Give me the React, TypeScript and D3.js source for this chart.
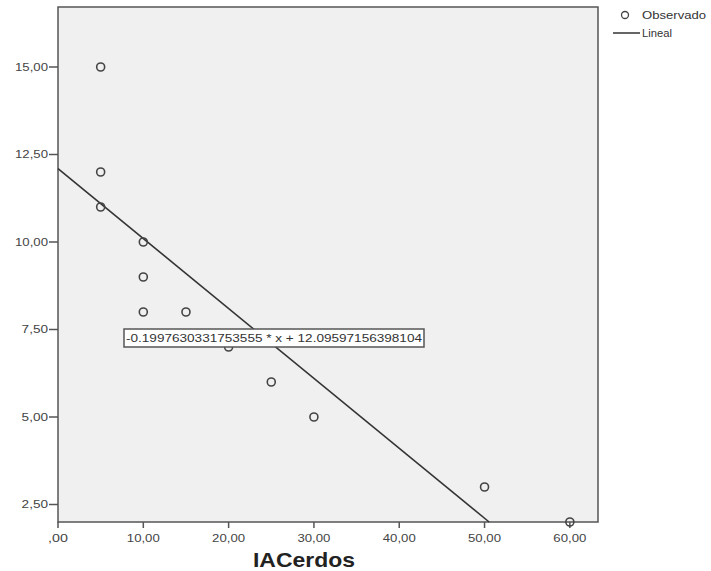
import React from "react";
import * as d3 from "d3";

const xValues = [5, 5, 5, 10, 10, 10, 15, 20, 25, 30, 50, 60];
const yValues = [15, 12, 11, 10, 9, 8, 8, 7, 6, 5, 3, 2];
const xTicks = [0, 10, 20, 30, 40, 50, 60];
const yTicks = [2.5, 5, 7.5, 10, 12.5, 15];
const slope = -0.1997630331753555;
const intercept = 12.09597156398104;
const equationLabel = "-0.1997630331753555 * x + 12.09597156398104";
const xTitle = "IACerdos";
const legendItems = ["Observado", "Lineal"];

const W = 711, H = 571;
const L = 58, R = 598, T = 7, B = 522;

const fmt = (v: number) => {
  const s = v.toFixed(2).replace(".", ",");
  return s.startsWith("0,") ? s.slice(1) : s;
};
const labW = (s: string) => s.length * 6.6;

export default function App() {
  const x = d3.scaleLinear().domain([0, 63.3]).range([L, R]);
  const y = d3.scaleLinear().domain([2, 2 + (B - T) / 35]).range([B, T]);
  const xEnd = (2 - intercept) / slope;
  const line = d3.line<[number, number]>().x(d => x(d[0])).y(d => y(d[1]));
  const pts: [number, number][] = [[0, intercept], [xEnd, slope * xEnd + intercept]];
  const font = "Liberation Sans, Arial, sans-serif";
  const eqX = 274, eqY = 338;
  return (
    <svg width={W} height={H} style={{ position: "absolute", left: 0, top: 0, background: "#fff" }} fontFamily={font}>
      <rect x={L} y={T} width={R - L} height={B - T} fill="#f0f0f0" stroke="#555" strokeWidth={1.5} />
      {yTicks.map(t => (
        <g key={"y" + t}>
          <line x1={L - 9} x2={L} y1={y(t)} y2={y(t)} stroke="#555" strokeWidth={1.5} />
          <text x={L - 10} y={y(t)} dy="0.35em" textAnchor="end" fontSize={11} fill="#444"
            textLength={labW(fmt(t))} lengthAdjust="spacingAndGlyphs">{fmt(t)}</text>
        </g>
      ))}
      {xTicks.map(t => (
        <g key={"x" + t}>
          <line x1={x(t)} x2={x(t)} y1={B} y2={B + 6} stroke="#555" strokeWidth={1.5} />
          <text x={x(t)} y={B + 20} textAnchor="middle" fontSize={11} fill="#444"
            textLength={labW(fmt(t))} lengthAdjust="spacingAndGlyphs">{fmt(t)}</text>
        </g>
      ))}
      <text x={304} y={567} textAnchor="middle" fontSize={21} fontWeight="bold" fill="#222"
        textLength={102} lengthAdjust="spacingAndGlyphs">{xTitle}</text>
      <path d={line(pts) || ""} stroke="#333" strokeWidth={1.6} fill="none" />
      {xValues.map((v, i) => (
        <circle key={i} cx={x(v)} cy={y(yValues[i])} r={4} fill="none" stroke="#444" strokeWidth={1.6} />
      ))}
      <rect x={eqX - 150} y={eqY - 9} width={300} height={18} fill="#fff" stroke="#555" strokeWidth={1.5} />
      <text x={eqX} y={eqY} dy="0.35em" textAnchor="middle" fontSize={11.5} fill="#333" textLength={296} lengthAdjust="spacingAndGlyphs">{equationLabel}</text>
      <circle cx={625} cy={15} r={3.5} fill="none" stroke="#444" strokeWidth={1.3} />
      <text x={642} y={15} dy="0.35em" fontSize={11} fill="#333" textLength={64} lengthAdjust="spacingAndGlyphs">{legendItems[0]}</text>
      <line x1={613} x2={640} y1={33} y2={33} stroke="#333" strokeWidth={1.5} />
      <text x={642} y={33} dy="0.35em" fontSize={11} fill="#333" textLength={30} lengthAdjust="spacingAndGlyphs">{legendItems[1]}</text>
    </svg>
  );
}
